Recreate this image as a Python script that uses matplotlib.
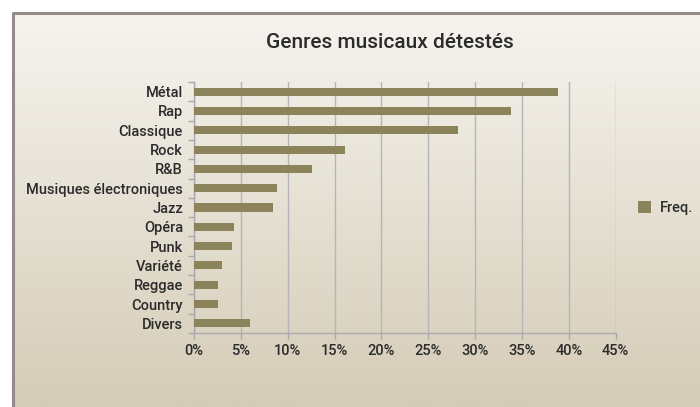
import numpy as np
import matplotlib
matplotlib.use("Agg")
import matplotlib.pyplot as plt
from matplotlib.ticker import FixedLocator, PercentFormatter

categories = ["Métal", "Rap", "Classique", "Rock", "R&B", "Musiques électroniques",
              "Jazz", "Opéra", "Punk", "Variété", "Reggae", "Country", "Divers"]
freq = [38.8, 33.8, 28.2, 16.1, 12.6, 8.9, 8.4, 4.3, 4.1, 3.0, 2.6, 2.6, 6.0]
xticks = [0, 5, 10, 15, 20, 25, 30, 35, 40, 45]
title = "Genres musicaux détestés"
series_name = "Freq."

plt.rcParams['font.family'] = ['Roboto', 'DejaVu Sans']
txt = '#2b2b2b'

fig = plt.figure(figsize=(7, 4.07), dpi=100)
fig.patch.set_facecolor('white')

# background gradient panel
bg = fig.add_axes([0, 0, 1, 1], zorder=-10)
bg.set_xlim(0, 700); bg.set_ylim(407, 0); bg.axis('off')
top = np.array([0xf6, 0xf4, 0xef]) / 255
bot = np.array([0xd5, 0xcc, 0xb7]) / 255
t = np.linspace(0, 1, 256)[:, None]
grad = (top[None, :] * (1 - t) + bot[None, :] * t)[:, None, :]
bg.imshow(grad, extent=[12, 700, 407, 12], aspect='auto', interpolation='bilinear')
bg.plot([12.5, 12.5, 700], [407, 12.5, 12.5], color='#958b89', lw=2.2, solid_capstyle='butt')

ax = fig.add_axes([194/700, 1-333/407, (615.7-194)/700, (333-82)/407])
ax.patch.set_alpha(0)
y = np.arange(len(categories))
ax.barh(y, freq, height=0.42, color='#8b835a', label=series_name, zorder=3)
ax.set_ylim(len(categories) - 0.5, -0.5)
ax.set_xlim(0, 45)
ax.set_yticks(y)
ax.set_yticklabels(categories)
ax.yaxis.set_minor_locator(FixedLocator(np.arange(-0.5, len(categories) + 0.5, 1)))
ax.tick_params(axis='y', which='major', length=0, pad=8, labelsize=10.5, labelcolor=txt)
ax.tick_params(axis='y', which='minor', length=4, color='#a8a8ae', width=1)
ax.set_xticks(xticks)
ax.xaxis.set_major_formatter(PercentFormatter(decimals=0))
ax.tick_params(axis='x', length=4, color='#a8a8ae', width=1, pad=4, labelsize=10.5, labelcolor=txt)
for lab in ax.get_xticklabels() + ax.get_yticklabels():
    lab.set_fontweight('medium')
ax.grid(axis='x', color='#b4b4b9', lw=1, zorder=0)
for s in ['top', 'right']:
    ax.spines[s].set_visible(False)
for s in ['left', 'bottom']:
    ax.spines[s].set_color('#a8a8ae')
    ax.spines[s].set_linewidth(1)

fig.text(390/700, 1-43/407, title, ha='center', va='center', fontsize=15,
         fontweight='medium', color=txt)

leg = fig.legend(loc='center left', bbox_to_anchor=(625/700, 1-208/407), frameon=False,
                 fontsize=10.5, handlelength=0.9, handleheight=0.9, handletextpad=0.6)
for tx in leg.get_texts():
    tx.set_color(txt); tx.set_fontweight('medium')

fig.savefig('out.png', dpi=100)
